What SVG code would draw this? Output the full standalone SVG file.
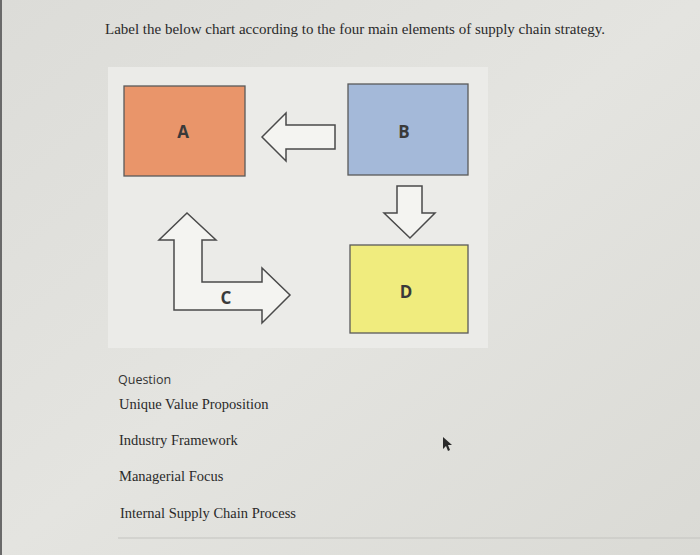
<svg xmlns="http://www.w3.org/2000/svg" width="700" height="555" viewBox="0 0 700 555">
<defs>
<linearGradient id="bg" x1="0" y1="0" x2="1" y2="1">
<stop offset="0" stop-color="#dcdcd8"/>
<stop offset="0.5" stop-color="#e4e4e0"/>
<stop offset="1" stop-color="#dadad5"/>
</linearGradient>
<style>
.box{stroke:#5a5a5a;stroke-width:1.3}
.arr{fill:#f4f4f1;stroke:#4a4a4a;stroke-width:1.5;stroke-linejoin:miter}
.lbl{font-family:"Open Sans","Liberation Sans",sans-serif;font-weight:bold;font-size:17px;fill:#3a3a3a;text-anchor:middle}
.serif{font-family:"Liberation Serif","Times New Roman",serif;fill:#2a2a2a}
</style>
</defs>
<rect width="700" height="555" fill="url(#bg)"/>
<rect x="0" y="0" width="2" height="555" fill="#6a6a6a"/>
<text class="serif" x="105" y="34" font-size="15.5" textLength="500" lengthAdjust="spacingAndGlyphs">Label the below chart according to the four main elements of supply chain strategy.</text>
<rect x="108" y="67" width="380" height="281" fill="#ebebe8"/>
<g id="nodeA"><rect class="box" x="124" y="86" width="121" height="90" fill="#e9956a"/><text class="lbl" x="183" y="138">A</text></g>
<g id="nodeB"><rect class="box" x="348" y="84" width="120" height="91" fill="#a4b9d9"/><text class="lbl" x="404" y="138">B</text></g>
<g id="nodeD"><rect class="box" x="350" y="245" width="118" height="88" fill="#f0ec7e"/><text class="lbl" x="406" y="298">D</text></g>
<g id="connectors">
<polygon class="arr" points="262,137 286,113 286,125 335,125 335,149 286,149 286,161"/>
<polygon class="arr" points="397,186 422,186 422,213 435,213 410,238 384,213 397,213"/>
</g>
<g id="nodeC">
<polygon class="arr" points="187,213 216,240 202,240 202,282 262,282 262,268 290,295 262,323 262,310 174,310 174,240 159,240"/>
<text class="lbl" x="226" y="304" font-size="15.5">C</text>
</g>
<text x="118" y="384" font-family="Open Sans,Liberation Sans,sans-serif" font-size="12.5" fill="#333">Question</text>
<text class="serif" x="119" y="409" font-size="14.5">Unique Value Proposition</text>
<text class="serif" x="119" y="445" font-size="14.5">Industry Framework</text>
<text class="serif" x="119" y="481" font-size="14.5">Managerial Focus</text>
<text class="serif" x="120" y="518" font-size="14.5">Internal Supply Chain Process</text>
<line x1="118" y1="538" x2="700" y2="538" stroke="#c4c4c0" stroke-width="1.2"/>
<polygon points="443,437 443,449 446,446 448,451 450,450 448,445 452,445" fill="#2a2a2a"/>
</svg>
